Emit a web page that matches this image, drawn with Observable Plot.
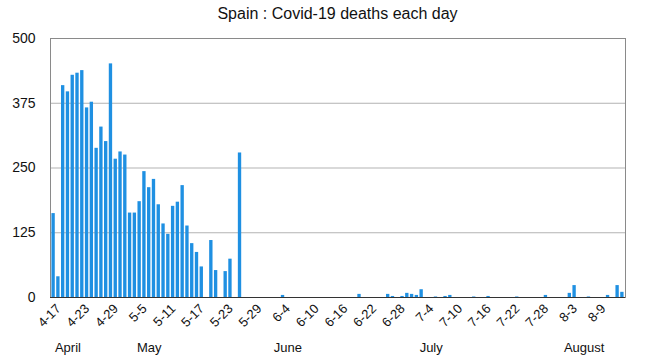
<!DOCTYPE html>
<html>
<head>
<meta charset="utf-8">
<script src="https://cdn.jsdelivr.net/npm/d3@7"></script>
<script src="https://cdn.jsdelivr.net/npm/@observablehq/plot@0.6"></script>
<style>
  html, body { margin: 0; padding: 0; background: #fff; }
  body { width: 645px; height: 361px; overflow: hidden; font-family: "Liberation Sans", Arial, Helvetica, sans-serif; }
  #title { height: 28px; line-height: 28px; font-size: 16px; color: #111; text-align: center; padding-left: 50px; padding-right: 20px; box-sizing: border-box; width: 645px; }
  #chart svg { display: block; }
</style>
</head>
<body>
<div id="title">Spain : Covid-19 deaths each day</div>
<div id="chart"></div>
<script>
// Categories: one per day, 17 April to 14 August 2020
const dates = d3.utcDay
  .range(new Date(Date.UTC(2020, 3, 17)), new Date(Date.UTC(2020, 7, 15)))
  .map(d => `${d.getUTCMonth() + 1}-${d.getUTCDate()}`);

// Daily deaths
const deaths = [
  162, 40, 409, 397, 429, 433, 438, 366, 377, 288,
  329, 301, 451, 267, 281, 275, 163, 163, 185, 243,
  212, 228, 179, 142, 122, 176, 184, 216, 138, 104,
  87, 59, 0, 110, 52, 0, 50, 74, 0, 279,
  0, 0, 0, 0, 0, 0, 0, 0, 4, 0,
  0, 0, 0, 0, 0, 0, 0, 0, 0, 0,
  0, 0, 0, 0, 6, 0, 0, 0, 0, 0,
  6, 2, 0, 2, 8, 6, 4, 15, 0, 0,
  1, 0, 2, 4, 0, 0, 0, 0, 1, 0,
  0, 2, 0, 0, 0, 0, 0, 1, 0, 0,
  0, 0, 0, 4, 0, 0, 0, 0, 8, 23,
  0, 0, 1, 0, 0, 0, 4, 0, 23, 10
];

// Axis tick labels
const yTicks = [0, 125, 250, 375, 500];
const xTickLabels = ["4-17", "4-23", "4-29", "5-5", "5-11", "5-17", "5-23", "5-29", "6-4", "6-10",
  "6-16", "6-22", "6-28", "7-4", "7-10", "7-16", "7-22", "7-28", "8-3", "8-9"];
const monthPositions = ["4-20", "5-7", "6-5", "7-5", "8-6"];
const monthNames = ["April", "May", "June", "July", "August"];

const table = dates.map((d, i) => ({date: d, deaths: deaths[i]}));
const monthLabel = new Map(monthPositions.map((d, i) => [d, monthNames[i]]));

const chart = Plot.plot({
  width: 645,
  height: 333,
  marginLeft: 50,
  marginRight: 20,
  marginTop: 10,
  marginBottom: 64,
  style: {fontFamily: "'Liberation Sans', Arial, Helvetica, sans-serif", fontSize: "13px", color: "#111", background: "#fff"},
  x: {type: "band", domain: dates, paddingInner: 0.3, paddingOuter: 0.3, axis: null, label: null},
  y: {domain: [0, 500], axis: null, label: null},
  marks: [
    Plot.ruleY(yTicks.slice(1, -1), {stroke: "#b3b3b3", strokeWidth: 1}),
    Plot.barY(table, {x: "date", y: "deaths", fill: "#1f90e2"}),
    Plot.frame({stroke: "#8a8a8a"}),
    Plot.ruleY([0], {stroke: "#333"}),
    Plot.axisY(yTicks, {tickSize: 0, tickPadding: 15, fontSize: 14, label: null}),
    Plot.axisX(xTickLabels, {tickSize: 0, tickRotate: -45, tickPadding: 9, dx: 5, fontSize: 13, label: null}),
    Plot.axisX(monthPositions, {tickSize: 0, tickPadding: 45, fontSize: 13, label: null, tickFormat: d => monthLabel.get(d)})
  ]
});
document.getElementById("chart").appendChild(chart);
</script>
</body>
</html>
